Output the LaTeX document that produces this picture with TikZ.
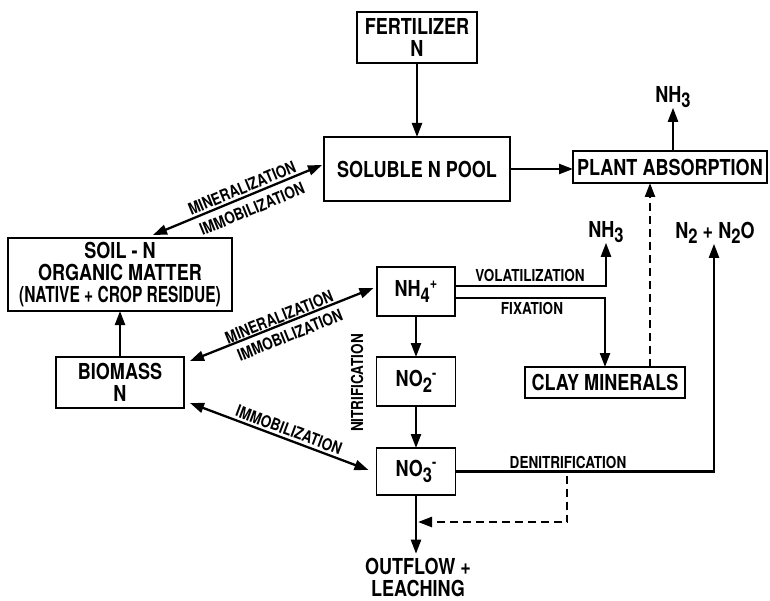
\documentclass[tikz,border=0pt]{standalone}
\usepackage{fontspec}
\setmainfont{TeX Gyre Heros}[FakeStretch=0.82]
\usepackage{graphicx}
\usetikzlibrary{arrows.meta,calc}
\newcommand\bigf{\fontsize{22}{22}\selectfont\bfseries}
\newcommand\smallf{\fontsize{16.5}{16}\selectfont\bfseries}
\newcommand\dn[1]{\raisebox{-0.45ex}{\scalebox{0.92}{#1}}}
\newcommand\up[1]{\raisebox{0.75ex}{\scalebox{0.7}{#1}}}
\begin{document}
\begin{tikzpicture}[x=1pt,y=-1pt,
  box/.style={draw,line width=1.8pt,inner sep=0pt,outer sep=0pt,align=center,font=\bigf},
  txt/.style={inner sep=0pt,outer sep=0pt,align=center,font=\bigf},
  lbl/.style={font=\smallf,inner sep=0pt},
  arr/.style={line width=2.3pt,-{Triangle[length=14pt,width=10pt]}},
  dbl/.style={line width=2.3pt,{Triangle[length=14pt,width=10pt]}-{Triangle[length=14pt,width=10pt]}},
  dsh/.style={arr,dash pattern=on 8pt off 5pt}]
\useasboundingbox (0,0) rectangle (770,601);

% boxes
\node[box,minimum width=120,minimum height=51] (fert) at (417,37.5) {FERTILIZER\\N};
\node[box,minimum width=186,minimum height=64] (pool) at (417,169) {SOLUBLE N POOL};
\node[box,minimum width=194,minimum height=32] (plant) at (670,167) {PLANT ABSORPTION};
\node[box,minimum width=224,minimum height=73] (soil) at (120,274.5) {SOIL - N\\ORGANIC MATTER\\\scalebox{0.86}[1]{(NATIVE + CROP RESIDUE)}};
\node[box,minimum width=128,minimum height=51] (bio) at (120,382.5) {BIOMASS\\N};
\node[box,minimum width=78,minimum height=49] (nh4) at (416,291.5) {NH\dn{4}\up{+}};
\node[box,minimum width=79,minimum height=49] (no2) at (416,381.5) {NO\dn{2}\up{-}};
\node[box,minimum width=79,minimum height=47] (no3) at (416,471.5) {NO\dn{3}\up{-}};
\node[box,minimum width=160,minimum height=31] (clay) at (605,382.5) {CLAY MINERALS};

% free texts
\node[txt] (out) at (418,577) {OUTFLOW +\\LEACHING};
\node[txt] (nh3top) at (673,97) {NH\dn{3}};
\node[txt] (nh3mid) at (606,232) {NH\dn{3}};
\node[txt] (n2) at (715,233) {N\dn{2} + N\dn{2}O};

% connectors
\draw[arr] (fert.south) -- (pool.north);
\draw[arr] (pool.east) -- (pool.east -| plant.west);
\draw[arr] (nh3top.south |- plant.north) -- (nh3top.south);
\draw[dbl] ($(soil.north)+(33,-3)$) -- ($(pool.west)+(-2,-4)$);
\draw[arr] (bio.north) -- (soil.south);
\draw[dbl] ($(bio.east)+(6,-21.5)$) -- ($(nh4.west)+(-3.5,-3.5)$);
\draw[dbl] ($(bio.east)+(6,20.5)$) -- ($(no3.west)+(-8,-1.5)$);
\draw[arr] (nh4.south) -- (no2.north);
\draw[arr] (no2.south) -- (no3.north);
\draw[arr] (no3.south) -- ($(no3.south |- out.north)+(0,-4)$);
\draw[arr] ($(nh4.east)+(0,-5.5)$) -| (nh3mid.south);
\draw[arr] ($(nh4.east)+(0,6.5)$) -| (clay.north);
\draw[dsh] ($(clay.north)+(45,0)$) coordinate (c1) -- (c1 |- plant.south);
\draw[arr] (no3.east) -| ($(n2.south)+(-1,0)$);
\draw[dsh] ($(no3.east)+(111.5,4)$) coordinate (d1) -- ++(0,46.5) coordinate (d2) -- ($(d2 -| no3.south)+(2,0)$);

% labels
\node[lbl,rotate=22.5] (l1) at (242,188) {MINERALIZATION};
\node[lbl,rotate=22.5] (l2) at (252,209) {IMMOBILIZATION};
\node[lbl,rotate=22] (l3) at (279,317) {MINERALIZATION};
\node[lbl,rotate=22] (l4) at (290,335) {IMMOBILIZATION};
\node[lbl,rotate=-20.6] (l5) at (289,430) {IMMOBILIZATION};
\node[lbl,rotate=90] (l6) at (357,383) {NITRIFICATION};
\node[lbl] (l7) at (530,275) {VOLATILIZATION};
\node[lbl] (l8) at (532,308) {FIXATION};
\node[lbl] (l9) at (568,462) {DENITRIFICATION};
\end{tikzpicture}
\end{document}
